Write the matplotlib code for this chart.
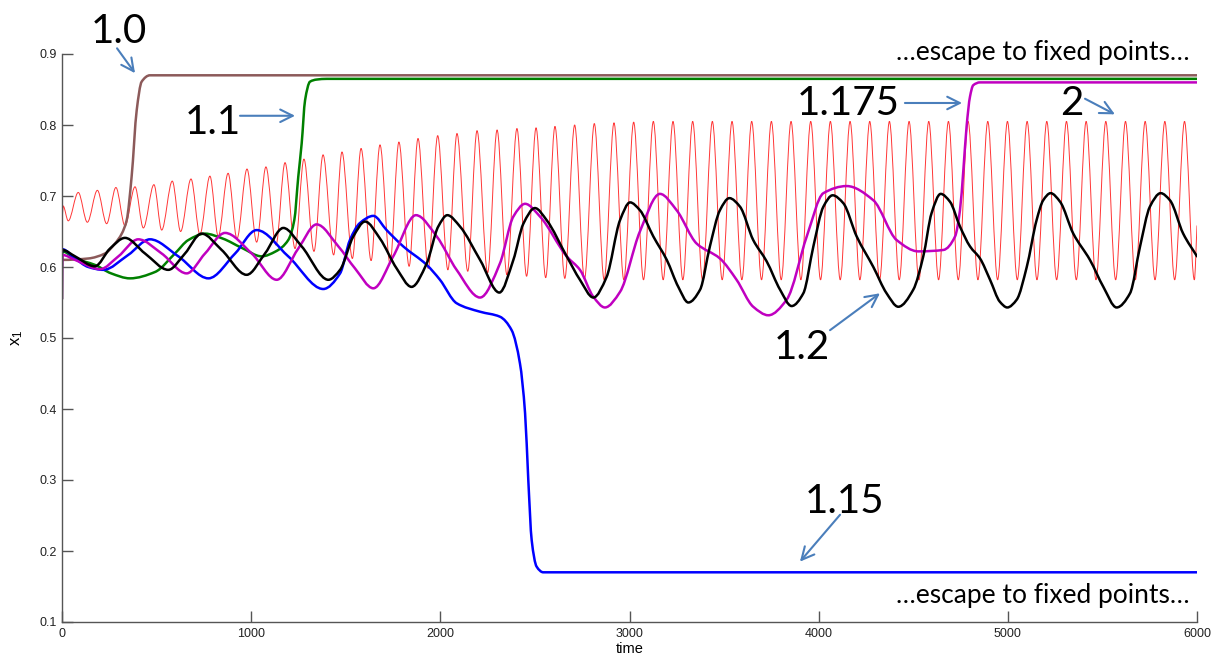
import numpy as np
import matplotlib
matplotlib.use("Agg")
import matplotlib.pyplot as plt
from matplotlib.path import Path
from matplotlib.patches import PathPatch

# red (2): oscillation extrema, peaks and troughs
red_peak_t = [86, 187, 285, 386, 486, 583, 682, 782, 878, 978, 1078, 1179, 1279, 1380,
              1480, 1581, 1681, 1781, 1882, 1986, 2088, 2194, 2300, 2405, 2506, 2606,
              2710, 2814, 2918, 3022, 3126, 3230, 3334, 3438, 3542, 3646, 3750, 3854,
              3958, 4062, 4166, 4270, 4374, 4478, 4582, 4686, 4790, 4894, 4998, 5102,
              5206, 5310, 5414, 5518, 5622, 5726, 5830, 5934]
red_peak_v = [0.705, 0.708, 0.712, 0.713, 0.716, 0.721, 0.724, 0.728, 0.732, 0.738,
              0.741, 0.747, 0.752, 0.758, 0.762, 0.767, 0.772, 0.776, 0.781, 0.785,
              0.788, 0.792, 0.793, 0.795, 0.796, 0.798,
              0.800, 0.802, 0.803, 0.804, 0.805, 0.805, 0.805, 0.805, 0.805, 0.805,
              0.805, 0.805, 0.805, 0.805, 0.805, 0.805, 0.805, 0.805, 0.805, 0.805,
              0.805, 0.805, 0.805, 0.805, 0.805, 0.805, 0.805, 0.805, 0.805, 0.805,
              0.805, 0.805]
red_trough_t = [0, 6, 33, 134, 236, 333, 430, 527, 627, 729, 826, 925, 1029, 1131, 1232,
                1332, 1436, 1535, 1634, 1734, 1835, 1936, 2040, 2145, 2250, 2352, 2456,
                2557, 2658, 2762, 2866, 2970, 3074, 3178, 3282, 3386, 3490, 3594, 3698,
                3802, 3906, 4010, 4114, 4218, 4322, 4426, 4530, 4634, 4738, 4842, 4946,
                5050, 5154, 5258, 5362, 5466, 5570, 5674, 5778, 5882, 5986, 6000]
red_trough_v = [0.655, 0.686, 0.665, 0.663, 0.661, 0.658, 0.655, 0.652, 0.650, 0.646,
                0.643, 0.640, 0.635, 0.631, 0.626, 0.622, 0.617, 0.612, 0.609, 0.605,
                0.601, 0.598, 0.596, 0.594, 0.592, 0.589, 0.587, 0.585, 0.584, 0.583,
                0.582, 0.582, 0.582, 0.582, 0.582, 0.582, 0.582, 0.582, 0.582, 0.582,
                0.582, 0.582, 0.582, 0.582, 0.582, 0.582, 0.582, 0.582, 0.582, 0.582,
                0.582, 0.582, 0.582, 0.582, 0.582, 0.582, 0.582, 0.582, 0.582, 0.582,
                0.582, 0.658]

# 1.0 (brown)
brown_t = [0, 2, 139, 227, 280, 316, 342, 368, 395, 421, 465, 6000]
brown_v = [0.610, 0.610, 0.612, 0.619, 0.633, 0.647, 0.666, 0.727, 0.821, 0.861, 0.870, 0.870]

# 1.1 (green)
green_t = [0, 2, 69, 174, 260, 359, 492, 597, 668, 756, 850, 950, 1056, 1130, 1196,
           1228, 1249, 1267, 1285, 1311, 1346, 1400, 6000]
green_v = [0.555, 0.622, 0.612, 0.603, 0.591, 0.584, 0.593, 0.619, 0.638, 0.647, 0.640,
           0.627, 0.615, 0.622, 0.638, 0.666, 0.727, 0.774, 0.835, 0.861, 0.864, 0.865,
           0.865]

# 1.15 (blue)
blue_t = [0, 2, 69, 139, 218, 350, 465, 615, 774, 915, 1029, 1196, 1381, 1470, 1522,
          1575, 1646, 1716, 1804, 1928, 1998, 2086, 2210, 2315, 2377, 2421, 2448, 2465,
          2483, 2509, 2544, 6000]
blue_v = [0.620, 0.625, 0.612, 0.600, 0.596, 0.617, 0.639, 0.615, 0.584, 0.619, 0.652,
          0.615, 0.569, 0.591, 0.638, 0.662, 0.672, 0.652, 0.629, 0.603, 0.582, 0.549,
          0.537, 0.530, 0.511, 0.464, 0.394, 0.300, 0.215, 0.178, 0.170, 0.170]

# 1.175 (magenta)
mag_t = [0, 2, 69, 201, 298, 403, 527, 659, 756, 862, 1003, 1135, 1249, 1346, 1461,
         1549, 1646, 1751, 1871, 1981, 2086, 2210, 2315, 2386, 2448, 2527, 2668, 2738,
         2809, 2870, 2950, 3055, 3161, 3249, 3355, 3478, 3566, 3654, 3734, 3831, 3937,
         4025, 4148, 4289, 4412, 4527, 4659, 4721, 4747, 4765, 4782, 4800, 4817, 4853,
         6000]
mag_v = [0.555, 0.617, 0.610, 0.597, 0.615, 0.639, 0.619, 0.591, 0.619, 0.648, 0.619,
         0.582, 0.626, 0.660, 0.629, 0.598, 0.570, 0.615, 0.673, 0.643, 0.596, 0.557,
         0.605, 0.671, 0.689, 0.671, 0.615, 0.596, 0.558, 0.543, 0.565, 0.650, 0.703,
         0.680, 0.633, 0.612, 0.582, 0.544, 0.532, 0.554, 0.643, 0.704, 0.714, 0.694,
         0.638, 0.622, 0.624, 0.643, 0.680, 0.737, 0.798, 0.840, 0.856, 0.860, 0.860]

# 1.2 (black)
black_t = [0, 2, 69, 174, 254, 333, 439, 562, 650, 738, 844, 976, 1073, 1170, 1267,
           1408, 1470, 1540, 1602, 1681, 1769, 1848, 1928, 1989, 2037, 2104, 2210, 2312,
           2386, 2439, 2500, 2562, 2668, 2738, 2809, 2879, 2950, 3003, 3055, 3126, 3197,
           3258, 3311, 3373, 3425, 3478, 3528, 3584, 3654, 3725, 3796, 3857, 3919, 3972,
           4025, 4074, 4130, 4201, 4289, 4359, 4421, 4500, 4553, 4597, 4645, 4694, 4747,
           4800, 4853, 4906, 4958, 4997, 5047, 5100, 5152, 5187, 5226, 5276, 5346, 5434,
           5505, 5575, 5646, 5699, 5751, 5808, 5857, 5927, 6000]
black_v = [0.620, 0.624, 0.615, 0.601, 0.626, 0.641, 0.619, 0.596, 0.619, 0.647, 0.624,
           0.589, 0.619, 0.655, 0.629, 0.582, 0.596, 0.643, 0.664, 0.640, 0.598, 0.572,
           0.605, 0.657, 0.673, 0.657, 0.610, 0.564, 0.610, 0.661, 0.683, 0.666, 0.615,
           0.582, 0.557, 0.586, 0.666, 0.691, 0.680, 0.643, 0.610, 0.572, 0.550, 0.568,
           0.629, 0.680, 0.697, 0.685, 0.638, 0.608, 0.568, 0.545, 0.563, 0.629, 0.685,
           0.701, 0.690, 0.643, 0.600, 0.563, 0.544, 0.568, 0.615, 0.676, 0.703, 0.692,
           0.657, 0.629, 0.612, 0.582, 0.551, 0.543, 0.554, 0.600, 0.666, 0.694, 0.704,
           0.692, 0.647, 0.610, 0.572, 0.543, 0.563, 0.629, 0.685, 0.704, 0.694, 0.647,
           0.615]

x_ticks = [0, 1000, 2000, 3000, 4000, 5000, 6000]
y_ticks = [0.1, 0.2, 0.3, 0.4, 0.5, 0.6, 0.7, 0.8, 0.9]


def smooth_path(t, v):
    # monotone cubic (Fritsch-Carlson) segments written as Bezier curves
    x = np.asarray(t, float)
    y = np.asarray(v, float)
    h = np.diff(x)
    d = np.diff(y) / h
    m = np.zeros_like(y)
    m[0], m[-1] = d[0], d[-1]
    for i in range(1, len(y) - 1):
        if d[i - 1] * d[i] > 0:
            w1 = 2 * h[i] + h[i - 1]
            w2 = h[i] + 2 * h[i - 1]
            m[i] = (w1 + w2) / (w1 / d[i - 1] + w2 / d[i])
    verts = [(x[0], y[0])]
    codes = [Path.MOVETO]
    for i in range(len(h)):
        verts += [(x[i] + h[i] / 3, y[i] + m[i] * h[i] / 3),
                  (x[i + 1] - h[i] / 3, y[i + 1] - m[i + 1] * h[i] / 3),
                  (x[i + 1], y[i + 1])]
        codes += [Path.CURVE4] * 3
    return Path(verts, codes)


def curve(ax, t, v, **kw):
    ax.add_patch(PathPatch(smooth_path(t, v), fill=False, capstyle="round",
                           joinstyle="round", **kw))


# merge red peaks and troughs into one time-ordered series
red_t = np.array(red_peak_t + red_trough_t)
red_v = np.array(red_peak_v + red_trough_v)
order = np.argsort(red_t, kind="stable")
red_t, red_v = red_t[order], red_v[order]

fig = plt.figure(figsize=(12.2, 6.61), dpi=100)
ax = fig.add_axes([62 / 1220, 1 - 622 / 661, (1197 - 62) / 1220, (622 - 54) / 661])

curve(ax, red_t, red_v, edgecolor="#ff2020", lw=0.7, alpha=0.9)
curve(ax, brown_t, brown_v, edgecolor="#8c5a5a", lw=1.8)
curve(ax, green_t, green_v, edgecolor="#008000", lw=1.8)
curve(ax, blue_t, blue_v, edgecolor="#0000ff", lw=1.8)
curve(ax, mag_t, mag_v, edgecolor="#c000c0", lw=1.8)
curve(ax, black_t, black_v, edgecolor="#000000", lw=1.8)

ax.set_xlim(0, 6000)
ax.set_ylim(0.1, 0.9)
ax.set_xticks(x_ticks)
ax.set_yticks(y_ticks)
ax.set_yticklabels([f"{v:.1f}" for v in y_ticks])
for s in ("top", "right"):
    ax.spines[s].set_visible(False)
for s in ("left", "bottom"):
    ax.spines[s].set_color("#555555")
    ax.spines[s].set_linewidth(1.0)
ax.tick_params(direction="in", length=8, width=1.0, color="#555555",
               labelsize=9, labelcolor="#222222", pad=4)
for lab in ax.get_xticklabels() + ax.get_yticklabels():
    lab.set_family("Liberation Sans")
ax.set_xlabel("time", fontsize=10.5, family="Liberation Sans", labelpad=2)
ax.set_ylabel(r"$\mathregular{x_1}$", fontsize=12, family="Liberation Sans", labelpad=10)

big = dict(fontsize=29, family="Lato", ha="center", va="baseline", color="black")
ax.text(301, 0.9155, "1.0", clip_on=False, **big)
ax.text(798, 0.787, "1.1", **big)
ax.text(4155, 0.814, "1.175", **big)
ax.text(5339, 0.814, "2", **big)
ax.text(3912, 0.470, "1.2", **big)
ax.text(4139, 0.2535, "1.15", **big)

esc = dict(fontsize=19, family="Lato", ha="right", va="baseline", color="black")
ax.text(5963, 0.8915, "\u2026escape to fixed points\u2026", **esc)
ax.text(5963, 0.1268, "\u2026escape to fixed points\u2026", **esc)

arrow = dict(arrowstyle="->,head_length=0.9,head_width=0.45", color="#4a7ebb", lw=1.5,
             shrinkA=0, shrinkB=0)
arrows = [((291, 0.908), (386, 0.873)),
          ((941, 0.813), (1232, 0.813)),
          ((4456, 0.831), (4758, 0.831)),
          ((5408, 0.837), (5566, 0.815)),
          ((4060, 0.511), (4324, 0.563)),
          ((4113, 0.251), (3901, 0.185))]
for start, tip in arrows:
    ax.annotate("", xy=tip, xytext=start, arrowprops=arrow, annotation_clip=False)

fig.savefig("out.png", dpi=100)
